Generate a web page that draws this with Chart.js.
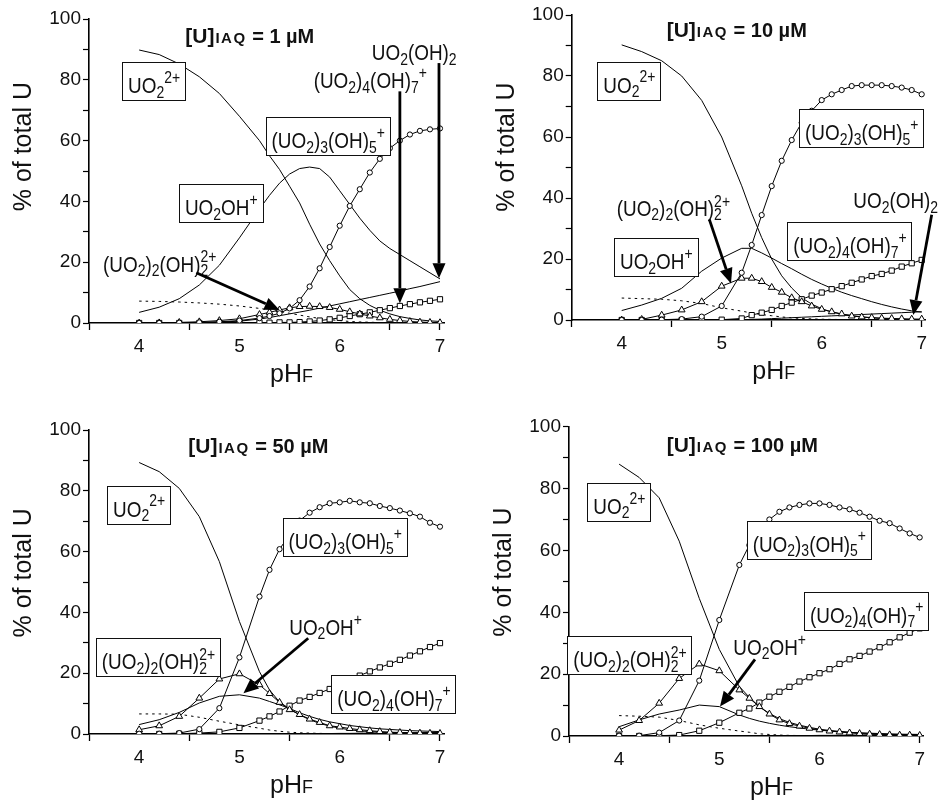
<!DOCTYPE html>
<html><head><meta charset="utf-8">
<script src="https://cdn.jsdelivr.net/npm/chart.js@4.4.1/dist/chart.umd.min.js"></script>
<style>
html,body{margin:0;padding:0;background:#fff;width:940px;height:800px;overflow:hidden}
.p{position:absolute}
</style></head><body>
<div class="p" style="left:0;top:0"><canvas id="c1" width="470" height="395"></canvas></div>
<div class="p" style="left:470px;top:0"><canvas id="c2" width="470" height="395"></canvas></div>
<div class="p" style="left:0;top:395px"><canvas id="c3" width="470" height="405"></canvas></div>
<div class="p" style="left:470px;top:395px"><canvas id="c4" width="470" height="405"></canvas></div>
<script>
// ---------- data ----------
const pH = [4.0,4.2,4.4,4.6,4.8,5.0,5.2,5.3,5.4,5.5,5.6,5.7,5.8,5.9,6.0,6.1,6.2,6.3,6.4,6.5,6.6,6.7,6.8,6.9,7.0];
const xTicks = [3.5,4,4.5,5,5.5,6,6.5,7];
const yTicks = [0,10,20,30,40,50,60,70,80,90,100];
const concentrations = ['1','10','50','100'];

// 1 µM
const uo2_1   = [89.8,88.3,85.2,81,75.5,68,60,55,50.5,45,39.5,32.5,26,20.5,15.5,11,8,5.8,4.2,3,2.1,1.5,1.0,0.7,0.5];
const uo2oh_1 = [3.5,5.2,8,12.5,19,28,37.5,42,46,49,50.8,51.3,50.8,48,43.5,39,34.5,30.5,27,24.5,22.5,20.5,18.5,16.5,14.5];
const u22_1   = [0,0.05,0.2,0.4,0.8,1.4,2.8,3.5,4.3,5.0,5.4,5.5,5.4,5.1,4.5,3.7,3.0,2.3,1.7,1.2,0.8,0.5,0.3,0.2,0.1];
const u35_1   = [0,0,0.1,0.2,0.4,0.8,1.6,2.3,3.2,4.8,7.5,12,18,25,32,38.5,44,49.5,54,57.5,60,62,63.2,63.7,64];
const u47_1   = [0,0,0,0,0,0,0.1,0.1,0.2,0.2,0.3,0.5,0.8,1.2,1.7,2.3,2.9,3.5,4.2,4.9,5.6,6.2,6.8,7.3,7.8];
const uoh2_1  = [0,0,0.05,0.1,0.3,0.6,1.3,1.8,2.4,3.0,3.6,4.2,4.9,5.6,6.3,7.0,7.7,8.4,9.1,9.8,10.5,11.3,12.0,12.8,13.6];
const dot_1   = [7.2,7.1,6.9,6.6,6.2,5.6,4.8,4.3,3.8,3.2,2.6,2.0,1.5,1.1,0.8,0.5,0.35,0.25,0.15,0.1,0.05,0.05,0.05,0,0];

// 10 µM
const uo2_2   = [90.2,88,85,80,72,60,44,35,27,20,14.5,10.5,7.3,5.2,3.7,2.6,1.9,1.4,1.0,0.7,0.5,0.35,0.25,0.2,0.15];
const uo2oh_2 = [3.1,4.9,7.1,10.4,16,20.3,23.5,23.5,22,20.3,18.5,16.8,15,13.3,11.8,10.4,9.1,8,7,6,5.1,4.3,3.6,3.0,2.6];
const u22_2   = [0,0.2,1.6,3.3,6,11.1,13.7,13.7,12.6,10.7,9.1,7.3,6.0,4.6,3.5,2.7,2.0,1.3,1.0,0.8,0.6,0.5,0.4,0.3,0.3];
const u35_2   = [0,0,0.1,0.3,1.1,4.6,15.5,24.6,34.4,43.9,52.2,59,64.7,68.6,72.1,74,75.4,76.7,77,77,77,76.7,76.2,75.4,74];
const u47_2   = [0,0,0,0,0.05,0.1,0.5,1.6,2.4,3.3,4.6,5.7,6.8,8,9,10.1,11.1,12.2,13.3,14.4,15.1,16.2,17.5,18.6,19.7];
const uoh2_2  = [0,0,0,0,0,0,0.1,0.2,0.3,0.45,0.6,0.75,0.9,1.05,1.2,1.35,1.5,1.65,1.8,1.95,2.1,2.25,2.4,2.55,2.7];
const dot_2   = [7.2,7.0,6.8,6.3,5.4,4.0,2.9,2.3,1.8,1.4,1.0,0.7,0.5,0.35,0.25,0.2,0.15,0.1,0.1,0.05,0.05,0,0,0,0];

// 50 µM
const uo2_3   = [89.3,86.3,80.8,71.5,56.7,37,20.5,14.5,10.5,8.3,6.3,4.7,3.5,2.6,1.9,1.4,1.0,0.8,0.6,0.5,0.4,0.3,0.25,0.2,0.2];
const uo2oh_3 = [3.1,4.7,7.1,10.2,12.4,12.9,11.8,10.7,9.6,8.4,7.0,5.8,4.8,4.0,3.4,2.8,2.4,2.0,1.7,1.5,1.3,1.1,1.0,0.9,0.8];
const u22_3   = [1.4,2.7,5.8,11.8,18.1,19.8,16.2,13.3,10.4,8.0,6.4,4.9,3.8,2.7,2.3,1.8,1.4,1.1,0.8,0.6,0.5,0.4,0.3,0.25,0.2];
const u35_3   = [0.1,0.1,0.3,1.6,8.5,25.2,45.2,54,60.8,65.5,70.2,72.8,74.6,75.9,76.2,76.7,76.2,75.9,75,74.3,73.5,72.6,71.5,69.5,68.2];
const u47_3   = [0,0,0.1,0.3,0.7,2.0,4.4,5.8,7.4,9.3,11,12.2,13.5,14.8,16.2,17.6,19.2,20.6,21.9,23.1,24.4,25.8,27.2,28.6,29.9];
const uoh2_3  = [0,0,0,0,0,0,0,0,0.05,0.05,0.1,0.1,0.15,0.15,0.2,0.2,0.25,0.3,0.3,0.35,0.4,0.4,0.45,0.5,0.5];
const dot_3   = [6.6,6.6,6.5,5.5,4.2,3.0,1.9,1.3,0.9,0.6,0.4,0.3,0.2,0.15,0.1,0.1,0.05,0.05,0,0,0,0,0,0,0];

// 100 µM
const uo2_4   = [87.9,83.6,77,63,44.5,28,16,12.5,9.5,7.3,5.6,4.4,3.5,2.8,2.2,1.8,1.5,1.2,1.0,0.8,0.65,0.5,0.4,0.35,0.3];
const uo2oh_4 = [3,5.2,7.1,8.4,10,9.5,6.8,5.7,4.8,4.1,3.5,3.0,2.6,2.2,1.9,1.6,1.4,1.2,1.0,0.9,0.8,0.7,0.6,0.55,0.5];
const u22_4   = [1.9,5,10.6,18.6,23.3,21.1,14.9,12.2,9.5,7.1,5.2,4.0,3.2,2.5,2.0,1.6,1.3,1.0,0.8,0.6,0.5,0.4,0.3,0.3,0.2];
const u35_4   = [0.1,0.1,1.1,5.0,17.9,37.5,55.3,61.7,66,70,72.5,73.9,74.7,75.2,75.2,74.7,73.9,73.3,72.2,70.9,69.6,68.8,67.1,65.5,64.2];
const u47_4   = [0,0,0.1,0.3,1.7,4.3,7.5,8.9,10.8,12.7,14.3,15.9,17.6,19,20.3,21.6,23.3,24.8,25.9,27.3,28.7,30.3,31.9,33.4,34.8];
const uoh2_4  = [0,0,0,0,0,0,0,0,0.05,0.05,0.1,0.1,0.15,0.15,0.2,0.2,0.25,0.3,0.3,0.35,0.4,0.4,0.45,0.5,0.5];
const dot_4   = [6.6,6.4,6.1,5.0,3.6,2.5,1.6,1.2,0.7,0.5,0.3,0.2,0.15,0.1,0.1,0.05,0.05,0,0,0,0,0,0,0,0];

// ---------- label texts (rich segments) ----------
const L_UO2   = [['UO'],['2','sub'],['2+','sup']];
const L_UO2OH = [['UO'],['2','sub'],['OH'],['+','sup']];
const L_U22   = [['(UO'],['2','sub'],[')'],['2','sub'],['(OH)'],['2','sub','2+']];
const L_U35   = [['(UO'],['2','sub'],[')'],['3','sub'],['(OH)'],['5','sub'],['+','sup']];
const L_U47   = [['(UO'],['2','sub'],[')'],['4','sub'],['(OH)'],['7','sub'],['+','sup']];
const L_UOH2  = [['UO'],['2','sub'],['(OH)'],['2','sub']];

const FONT = '"Liberation Sans", Arial, Helvetica, sans-serif';
const LSIZE = 22.5, COND = 0.84, SUBF = 0.74;

function richWidth(ctx, segs, size){
  let w = 0; const small = size*SUBF;
  for (const s of segs){
    if (!s[1]) { ctx.font = size+'px '+FONT; w += ctx.measureText(s[0]).width; }
    else { ctx.font = small+'px '+FONT; let ww = ctx.measureText(s[0]).width;
      if (s[2]) ww = Math.max(ww, ctx.measureText(s[2]).width); w += ww; }
  }
  return w;
}
function drawRich(ctx, segs, x, y, size, cond){
  ctx.save();
  ctx.translate(x, y); ctx.scale(cond, 1);
  ctx.fillStyle = '#111'; ctx.textBaseline = 'alphabetic'; ctx.textAlign = 'left';
  const small = size*SUBF; let cx = 0;
  for (const s of segs){
    if (!s[1]) { ctx.font = size+'px '+FONT; ctx.fillText(s[0], cx, 0); cx += ctx.measureText(s[0]).width; }
    else if (s[1]==='sub') {
      ctx.font = small+'px '+FONT; ctx.fillText(s[0], cx, size*0.2);
      let w = ctx.measureText(s[0]).width;
      if (s[2]) { ctx.fillText(s[2], cx, -size*0.42); w = Math.max(w, ctx.measureText(s[2]).width); }
      cx += w;
    } else {
      ctx.font = small+'px '+FONT; ctx.fillText(s[0], cx, -size*0.46); cx += ctx.measureText(s[0]).width;
    }
  }
  ctx.restore();
}
function drawArrow(ctx, x1, y1, x2, y2){
  const ang = Math.atan2(y2-y1, x2-x1), hl = 15, hw = 6.5;
  const bx = x2 - hl*Math.cos(ang), by = y2 - hl*Math.sin(ang);
  ctx.save();
  ctx.strokeStyle = '#000'; ctx.fillStyle = '#000'; ctx.lineWidth = 2.8;
  ctx.beginPath(); ctx.moveTo(x1,y1); ctx.lineTo(bx,by); ctx.stroke();
  ctx.beginPath(); ctx.moveTo(x2,y2);
  ctx.lineTo(bx + hw*Math.sin(ang), by - hw*Math.cos(ang));
  ctx.lineTo(bx - hw*Math.sin(ang), by + hw*Math.cos(ang));
  ctx.closePath(); ctx.fill();
  ctx.restore();
}

const annotPlugin = {
  id: 'annot',
  afterDraw(chart, args, o){
    const ctx = chart.ctx, xs = chart.scales.x, ys = chart.scales.y, ca = chart.chartArea;
    const X = v => xs.getPixelForValue(v), Y = v => ys.getPixelForValue(v);
    // y axis title
    ctx.save();
    ctx.translate(ca.left - 65, Y(o.yTitleAt)); ctx.rotate(-Math.PI/2);
    ctx.font = '25px '+FONT; ctx.fillStyle = '#111'; ctx.textAlign = 'center'; ctx.textBaseline = 'middle';
    ctx.fillText('% of total U', 0, 0);
    ctx.restore();
    // x axis title pHF
    ctx.save();
    ctx.fillStyle = '#111'; ctx.textBaseline = 'alphabetic'; ctx.textAlign = 'left';
    ctx.font = '25px '+FONT; const w1 = ctx.measureText('pH').width;
    ctx.font = '18px '+FONT; const w2 = ctx.measureText('F').width;
    const xl = X(5.52) - (w1+w2)/2, yb = ca.bottom + 59;
    ctx.font = '25px '+FONT; ctx.fillText('pH', xl, yb);
    ctx.font = '18px '+FONT; ctx.fillText('F', xl + w1, yb);
    ctx.restore();
    // panel title
    ctx.save();
    ctx.fillStyle = '#111'; ctx.textBaseline = 'alphabetic'; ctx.textAlign = 'left';
    let tx = X(o.title[0]); const ty = Y(o.title[1]);
    ctx.font = 'bold 21px '+FONT; ctx.fillText('[U]', tx, ty); tx += ctx.measureText('[U]').width + 1;
    ctx.font = 'bold 15px '+FONT;
    for (const ch of 'IAQ'){ ctx.fillText(ch, tx, ty); tx += ctx.measureText(ch).width + 1.5; }
    ctx.font = 'bold 20px '+FONT; ctx.fillText(' = ' + o.conc + ' µM', tx, ty);
    ctx.restore();
    // labels
    for (const l of o.labels){
      const x = X(l.x), y = Y(l.y);
      const w = richWidth(ctx, l.t, LSIZE)*COND;
      if (l.box){
        ctx.save();
        ctx.fillStyle = '#fff'; ctx.strokeStyle = '#111'; ctx.lineWidth = 1;
        const bx = Math.round(x-6)+0.5, by = Math.round(y-31)+0.5;
        const bw = Math.round(w+11), bh = 38;
        ctx.fillRect(bx, by, bw, bh); ctx.strokeRect(bx, by, bw, bh);
        ctx.restore();
      }
      drawRich(ctx, l.t, x, y, LSIZE, COND);
    }
    for (const a of o.arrows) drawArrow(ctx, X(a[0]), Y(a[1]), X(a[2]), Y(a[3]));
  }
};

function series(label, arr, style){
  const base = {label, data: pH.map((x,i)=>({x, y: arr[i]})), borderColor:'#000', borderWidth:1,
    pointBackgroundColor:'#fff', pointBorderColor:'#000', pointBorderWidth:1, tension:0, fill:false, pointHoverRadius:0};
  if (style==='circle') Object.assign(base,{pointStyle:'circle', pointRadius:2.6});
  else if (style==='triangle') Object.assign(base,{pointStyle:'triangle', pointRadius:3.9});
  else if (style==='rect') Object.assign(base,{pointStyle:'rect', pointRadius:3.7});
  else if (style==='dot') Object.assign(base,{pointRadius:0, borderDash:[2.5,4], borderWidth:1});
  else Object.assign(base,{pointRadius:0});
  return base;
}

function makeChart(id, sets, geo, annot){
  const ds = [
    series('(UO2)3(OH)5+', sets[3], 'circle'),
    series('(UO2)2(OH)2 2+', sets[2], 'triangle'),
    series('(UO2)4(OH)7+', sets[4], 'rect'),
    series('UO2 2+', sets[0], 'line'),
    series('UO2OH+', sets[1], 'line'),
    series('UO2(OH)2', sets[5], 'line'),
    series('other', sets[6], 'dot'),
  ];
  return new Chart(document.getElementById(id), {
    type:'line',
    data:{datasets: ds},
    options:{
      responsive:false, animation:false, events:[],
      layout:{padding:{top:geo.top, right:geo.right, bottom:0, left:0}},
      plugins:{legend:{display:false}, tooltip:{enabled:false}, annot: annot},
      scales:{
        x:{type:'linear', min:3.5, max:7.04,
          afterBuildTicks: s => { s.ticks = xTicks.map(v=>({value:v})); },
          afterFit: s => { s.height = geo.xh; },
          border:{display:true, color:'#000', width:1.6},
          grid:{display:true, drawOnChartArea:false, drawTicks:true, tickLength:7, tickWidth:1.3,
            tickColor: c => (c.tick && (c.tick.value % 1 !== 0 || c.tick.value === 7)) ? '#000' : 'rgba(0,0,0,0)'},
          ticks:{padding:5.5, color:'#111', font:{family:FONT, size:19}, maxRotation:0, autoSkip:false,
            callback: v => (v % 1 === 0 ? String(v) : '')}
        },
        y:{type:'linear', min:0, max:100,
          afterBuildTicks: s => { s.ticks = yTicks.map(v=>({value:v})); },
          afterFit: s => { s.width = geo.left; },
          border:{display:true, color:'#000', width:1.6},
          grid:{display:true, drawOnChartArea:false, drawTicks:true, tickLength:6, tickWidth:1.2, tickColor:'#000'},
          ticks:{padding:2, color:'#111', font:{family:FONT, size:19}, autoSkip:false,
            callback: v => (v % 20 === 0 ? String(v) : '')}
        }
      }
    },
    plugins:[annotPlugin]
  });
}

makeChart('c1', [uo2_1,uo2oh_1,u22_1,u35_1,u47_1,uoh2_1,dot_1], {left:89, top:19, right:26, xh:72}, {
  conc: concentrations[0], title:[4.46,92], yTitleAt:58,
  labels:[
    {t:L_UO2, x:3.89, y:75.5, box:true},
    {t:L_U35, x:5.32, y:57.5, box:true},
    {t:L_UO2OH, x:4.457, y:35.5, box:true},
    {t:L_U22, x:3.64, y:16.9},
    {t:L_UOH2, x:6.32, y:86.5},
    {t:L_U47, x:5.74, y:77.2}
  ],
  arrows:[[4.57,16.5,5.40,4.3],[6.99,85.5,6.99,14.7],[6.60,76.2,6.60,6.5]]
});
makeChart('c2', [uo2_2,uo2oh_2,u22_2,u35_2,u47_2,uoh2_2,dot_2], {left:101.7, top:15, right:14.3, xh:75}, {
  conc: concentrations[1], title:[4.45,92.9], yTitleAt:56.7,
  labels:[
    {t:L_UO2, x:3.816, y:74.5, box:true},
    {t:L_U35, x:5.833, y:59, box:true},
    {t:L_UO2OH, x:3.983, y:16.6, box:true},
    {t:L_U47, x:5.716, y:21.9, box:true},
    {t:L_U22, x:3.95, y:34.1},
    {t:L_UOH2, x:6.316, y:36.6}
  ],
  arrows:[[4.876,33,5.093,12.0],[7.1,34.5,6.916,1.6]]
});
makeChart('c3', [uo2_3,uo2oh_3,u22_3,u35_3,u47_3,uoh2_3,dot_3], {left:89, top:35, right:26, xh:66}, {
  conc: concentrations[2], title:[4.49,92.3], yTitleAt:53,
  labels:[
    {t:L_UO2, x:3.74, y:71.5, box:true},
    {t:L_U35, x:5.49, y:60.8, box:true},
    {t:L_U22, x:3.627, y:21.3, box:true},
    {t:L_U47, x:5.976, y:9.2, box:true},
    {t:L_UO2OH, x:5.497, y:32.6}
  ],
  arrows:[[5.686,31.5,5.04,13.4]]
});
makeChart('c4', [uo2_4,uo2oh_4,u22_4,u35_4,u47_4,uoh2_4,dot_4], {left:99, top:31.7, right:16.3, xh:64}, {
  conc: concentrations[3], title:[4.475,91.9], yTitleAt:53,
  labels:[
    {t:L_UO2, x:3.743, y:71.8, box:true},
    {t:L_U35, x:5.333, y:59.6, box:true},
    {t:L_U47, x:5.905, y:36.6, box:true},
    {t:L_U22, x:3.543, y:22.2, box:true},
    {t:L_UO2OH, x:5.14, y:26.2}
  ],
  arrows:[[5.356,24.8,5.007,9.5]]
});
</script>
</body></html>
